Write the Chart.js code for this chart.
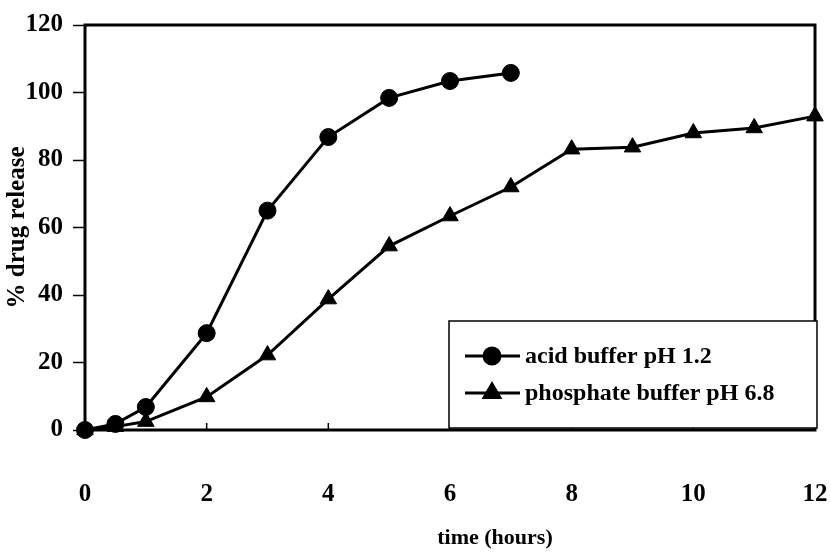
<!DOCTYPE html>
<html>
<head>
<meta charset="utf-8">
<script src="https://cdn.jsdelivr.net/npm/chart.js@4"></script>
<style>
  html, body { margin: 0; padding: 0; background: #fff; }
  #wrap { width: 831px; height: 552px; }
</style>
</head>
<body>
<div id="wrap"><canvas id="myChart"></canvas></div>
<script>
// values
var timeAcid = [0, 0.5, 1, 2, 3, 4, 5, 6, 7];
var acidRelease = [0, 1.8, 6.8, 28.7, 65, 86.8, 98.4, 103.4, 105.8];
var timePhos = [0, 0.5, 1, 2, 3, 4, 5, 6, 7, 8, 9, 10, 11, 12];
var phosRelease = [0, 1.0, 2.5, 9.8, 22.2, 38.8, 54.5, 63.4, 72, 83.2, 83.8, 88, 89.5, 93];
var xTicks = [0, 2, 4, 6, 8, 10, 12];
var yTicks = [0, 20, 40, 60, 80, 100, 120];
var seriesNames = ["acid buffer pH 1.2", "phosphate buffer pH 6.8"];
var xTitle = "time (hours)";

var serif = "'Liberation Serif', 'DejaVu Serif', serif";

function toPoints(xs, ys) {
  var out = [];
  for (var i = 0; i < xs.length; i++) out.push({x: xs[i], y: ys[i]});
  return out;
}

// frame, inward x ticks, x title (sits right of centre in the scan) and the boxed legend
var extras = {
  id: "extras",
  afterDraw: function(chart) {
    var ctx = chart.ctx;
    var a = chart.chartArea;
    var xs = chart.scales.x;
    ctx.save();
    ctx.strokeStyle = "#000";
    ctx.lineWidth = 3;
    ctx.strokeRect(a.left, a.top, a.right - a.left, a.bottom - a.top);

    ctx.lineWidth = 1.5;
    for (var i = 1; i < xTicks.length - 1; i++) {
      var px = xs.getPixelForValue(xTicks[i]);
      ctx.beginPath();
      ctx.moveTo(px, a.bottom);
      ctx.lineTo(px, a.bottom - 7);
      ctx.stroke();
    }

    ctx.fillStyle = "#000";
    ctx.font = "bold 22px " + serif;
    ctx.textAlign = "center";
    ctx.textBaseline = "middle";
    ctx.fillText(xTitle, 495, 538);

    // legend box
    var bx = 449, by = 321, bw = 368, bh = 107;
    ctx.fillStyle = "#fff";
    ctx.fillRect(bx, by, bw, bh);
    ctx.lineWidth = 1.5;
    ctx.strokeRect(bx, by, bw, bh);

    var rows = [356, 393];
    var styles = ["circle", "triangle"];
    var radii = [8, 9];
    for (var r = 0; r < rows.length; r++) {
      var y = rows[r];
      ctx.lineWidth = 3;
      ctx.beginPath();
      ctx.moveTo(465, y);
      ctx.lineTo(520, y);
      ctx.stroke();
      ctx.fillStyle = "#000";
      Chart.helpers.drawPoint(ctx, {pointStyle: styles[r], radius: radii[r], borderWidth: 1}, 492, y);
      ctx.fillStyle = "#000";
      ctx.font = "bold 24px " + serif;
      ctx.textBaseline = "middle";
      ctx.textAlign = "left";
      ctx.fillText(seriesNames[r], 525, y + 1);
    }
    ctx.restore();
  }
};

new Chart("myChart", {
  type: "line",
  data: {
    datasets: [{
      label: seriesNames[0],
      data: toPoints(timeAcid, acidRelease),
      borderColor: "#000",
      backgroundColor: "#000",
      borderWidth: 3,
      pointStyle: "circle",
      pointRadius: 8.5,
      pointBorderWidth: 1,
      tension: 0,
      clip: false
    }, {
      label: seriesNames[1],
      data: toPoints(timePhos, phosRelease),
      borderColor: "#000",
      backgroundColor: "#000",
      borderWidth: 3,
      pointStyle: "triangle",
      pointRadius: 9.5,
      pointBorderWidth: 1,
      tension: 0,
      clip: false
    }]
  },
  options: {
    responsive: true,
    maintainAspectRatio: false,
    animation: false,
    layout: { padding: { top: 25, right: 16, bottom: 0, left: 0 } },
    plugins: {
      legend: { display: false },
      tooltip: { enabled: false }
    },
    scales: {
      x: {
        type: "linear",
        min: 0,
        max: 12,
        afterFit: function(scale) {
          scale.height = 122;
          scale.paddingLeft = 0;
          scale.paddingRight = 0;
        },
        afterBuildTicks: function(scale) {
          scale.ticks = xTicks.map(function(v) { return {value: v}; });
        },
        grid: { display: false, drawTicks: false },
        border: { display: false },
        ticks: {
          padding: 50,
          color: "#000",
          maxRotation: 0,
          font: { family: serif, size: 25, weight: "bold" }
        },
        title: { display: false }
      },
      y: {
        min: 0,
        max: 120,
        afterFit: function(scale) {
          scale.width = 85;
          scale.paddingTop = 0;
          scale.paddingBottom = 0;
        },
        afterBuildTicks: function(scale) {
          scale.ticks = yTicks.map(function(v) { return {value: v}; });
        },
        grid: {
          drawOnChartArea: false,
          drawTicks: true,
          tickLength: 12,
          tickWidth: 1.5,
          color: "#000"
        },
        border: { display: false },
        ticks: {
          padding: 10,
          color: "#000",
          font: { family: serif, size: 25, weight: "bold" }
        },
        title: {
          display: true,
          text: "% drug release",
          color: "#000",
          padding: { top: 3, bottom: 0 },
          font: { family: serif, size: 25, weight: "bold" }
        }
      }
    }
  },
  plugins: [extras]
});
</script>
</body>
</html>
